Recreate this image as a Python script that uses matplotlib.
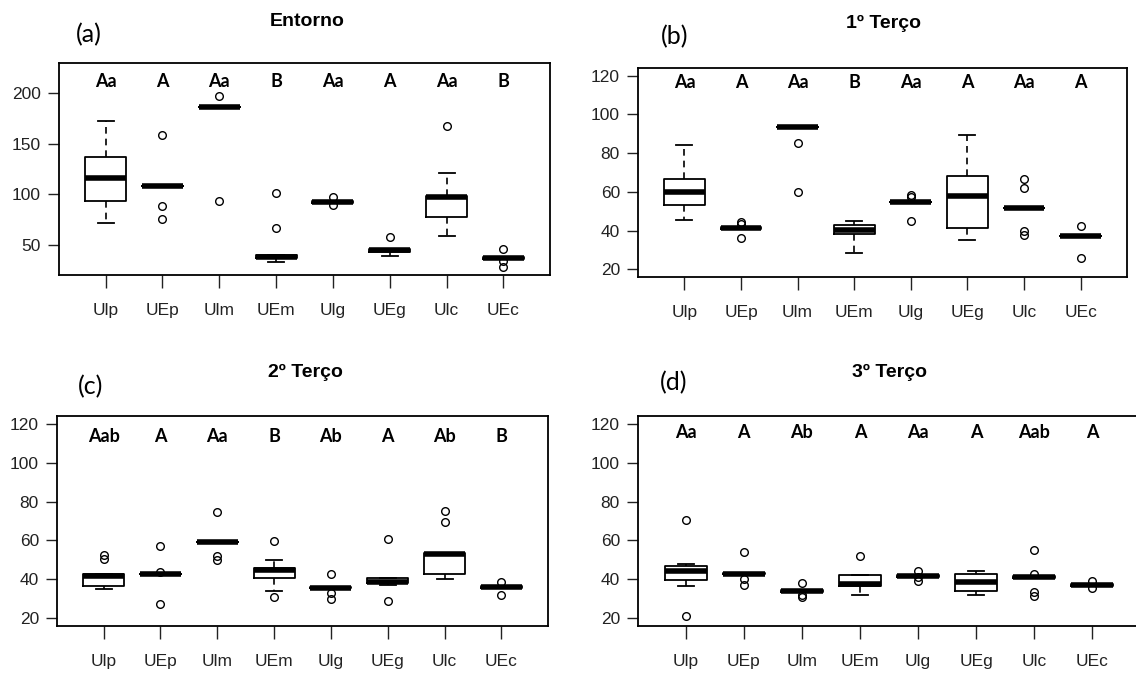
import matplotlib
matplotlib.use("Agg")
import matplotlib.pyplot as plt

plt.rcParams["font.family"] = ["Liberation Sans Narrow", "Liberation Sans", "DejaVu Sans"]

groups = ["Ulp", "UEp", "Ulm", "UEm", "Ulg", "UEg", "Ulc", "UEc"]

# (a) Entorno
a_whislo = [72, 108, 186, 33, 92, 39, 59, 37]
a_q1 = [93, 108, 186, 37, 91.5, 43.5, 78, 36]
a_med = [116, 108, 186, 38.5, 92.5, 45, 97, 37]
a_q3 = [137, 108, 186, 40, 93.5, 46, 98.5, 38]
a_whishi = [172, 108, 186, 40, 93.5, 46, 121.5, 38]
a_fliers = [[], [159, 88, 76], [197, 93], [101, 67], [97, 89], [58], [167], [46, 34, 28]]
a_letters = ["Aa", "A", "Aa", "B", "Aa", "A", "Aa", "B"]

# (b) 1º Terço
b_whislo = [45.5, 41, 93.5, 28.5, 54.5, 35, 51.5, 37]
b_q1 = [53, 41, 93.5, 38, 54.5, 41.5, 51.5, 37]
b_med = [60, 41.5, 93.5, 40.5, 54.5, 58, 51.5, 37]
b_q3 = [66.5, 42, 93.5, 43, 54.5, 68, 51.5, 37]
b_whishi = [84, 42, 93.5, 45, 54.5, 89.5, 51.5, 37]
b_fliers = [[], [44.5, 43.5, 36], [85.5, 60], [], [58.5, 57.5, 45], [], [66.5, 62, 40, 37.5], [42.5, 26]]
b_letters = ["Aa", "A", "Aa", "B", "Aa", "A", "Aa", "A"]

# (c) 2º Terço
c_whislo = [35, 42.5, 59, 34, 35.5, 37, 40, 35.5]
c_q1 = [36.5, 42.5, 59, 40.5, 35.5, 38, 43, 35.5]
c_med = [41.5, 43, 59, 45, 35.5, 38.5, 53, 36]
c_q3 = [42.5, 43, 59, 46, 36, 40.5, 53.5, 36.5]
c_whishi = [42.5, 43, 59, 50, 36, 40.5, 53.5, 36.5]
c_fliers = [[52.5, 50.5], [57, 44, 27.5], [74.5, 52, 50], [59.5, 31], [42.5, 33, 30], [61, 29], [75, 69.5], [38.5, 32]]
c_letters = ["Aab", "A", "Aa", "B", "Ab", "A", "Ab", "B"]

# (d) 3º Terço
d_whislo = [36.5, 43, 33.5, 32, 41, 32, 40.5, 36.5]
d_q1 = [39.5, 43, 33.5, 36.5, 41, 34, 40.5, 36.5]
d_med = [44.5, 43, 34, 37.5, 41.5, 38.5, 41, 37]
d_q3 = [47, 43.5, 34.5, 42, 42, 42.5, 41.5, 37.5]
d_whishi = [48, 43.5, 34.5, 42, 42, 44.5, 41.5, 37.5]
d_fliers = [[70.5, 21], [54, 40, 37], [38, 32, 31], [52], [44.5, 41, 39], [], [55, 43, 33.5, 31.5], [39, 35.5]]
d_letters = ["Aa", "A", "Ab", "A", "Aa", "A", "Aab", "A"]

titles = ["Entorno", "1º Terço", "2º Terço", "3º Terço"]
tags = ["(a)", "(b)", "(c)", "(d)"]

W, H = 1136, 673
fig = plt.figure(figsize=(W / 100, H / 100), dpi=100)


def px(x, y):
    return x / W, 1 - y / H


# left, right, top, bottom in pixels
boxes_px = [(59, 550, 63, 275), (638, 1127, 68, 277), (57, 548, 416, 626), (638, 1140, 416, 626)]
ylims = [(20.3, 229.7), (16, 124), (16, 124), (16, 124)]
yticks = [[50, 100, 150, 200], [20, 40, 60, 80, 100, 120], [20, 40, 60, 80, 100, 120], [20, 40, 60, 80, 100, 120]]
letter_y = [211.5, 116.5, 113.6, 115.3]
title_xy = [(307, 21), (884, 23), (305, 372), (889, 372)]
tag_xy = [(76, 35), (661, 37), (78, 387), (660, 383)]

panels = [
    (a_whislo, a_q1, a_med, a_q3, a_whishi, a_fliers, a_letters),
    (b_whislo, b_q1, b_med, b_q3, b_whishi, b_fliers, b_letters),
    (c_whislo, c_q1, c_med, c_q3, c_whishi, c_fliers, c_letters),
    (d_whislo, d_q1, d_med, d_q3, d_whishi, d_fliers, d_letters),
]

for i, (wl, q1, med, q3, wh, fl, letters) in enumerate(panels):
    l, r, t, b = boxes_px[i]
    ax = fig.add_axes([l / W, 1 - b / H, (r - l) / W, (b - t) / H])
    stats = []
    for k in range(len(groups)):
        stats.append(dict(whislo=wl[k], q1=q1[k], med=med[k], q3=q3[k],
                          whishi=wh[k], fliers=fl[k], label=groups[k]))
    ax.bxp(stats, positions=range(1, 9), widths=0.72, capwidths=0.28,
           boxprops=dict(color="black", linewidth=1.3),
           medianprops=dict(color="black", linewidth=4, solid_capstyle="butt"),
           whiskerprops=dict(color="black", linewidth=1.2, linestyle=(0, (4, 3))),
           capprops=dict(color="black", linewidth=1.3),
           flierprops=dict(marker="o", markerfacecolor="none", markeredgecolor="black",
                           markersize=5.5, markeredgewidth=1.0))
    ax.set_xlim(0.18, 8.82)
    ax.set_ylim(*ylims[i])
    ax.set_yticks(yticks[i])
    ax.set_xticks(range(1, 9))
    ax.set_xticklabels(groups)
    ax.tick_params(axis="y", length=8, width=1, pad=5, labelsize=12.5, colors="#222222")
    ax.tick_params(axis="x", length=9.5, width=1, pad=11, labelsize=12.5, colors="#222222")
    for s in ax.spines.values():
        s.set_linewidth(1.3)
    for k, lab in enumerate(letters):
        ax.text(k + 1, letter_y[i], lab, ha="center", va="center", fontsize=13,
                fontweight="bold", family=["Lato", "DejaVu Sans"])
    fig.text(*px(*title_xy[i]), titles[i], ha="center", va="center", fontsize=14,
             fontweight="bold", family=["Liberation Sans", "DejaVu Sans"])
    fig.text(*px(*tag_xy[i]), tags[i], ha="left", va="center", fontsize=18,
             family=["Lato", "DejaVu Sans"])

fig.savefig("out.png", dpi=100)
